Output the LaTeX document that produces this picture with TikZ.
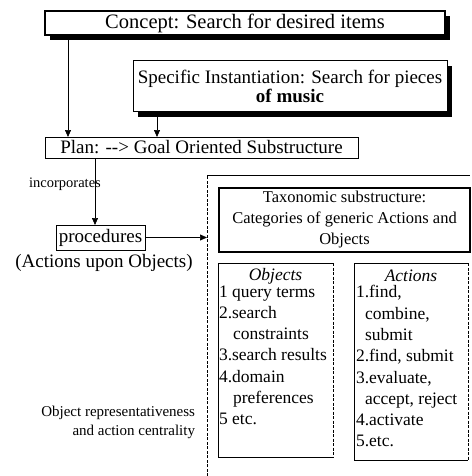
\documentclass[tikz,border=0pt]{standalone}
\usepackage{fontspec}
\setmainfont{Liberation Serif}
\usetikzlibrary{arrows.meta,shadows}
\begin{document}
\begin{tikzpicture}[x=1pt,y=-1pt,
  every node/.style={inner sep=0pt, outer sep=0pt},
  frame/.style={draw=black, line width=0.9pt, fill=white, align=center},
  shadowed/.style={frame, line width=1.2pt,
    drop shadow={shadow xshift=5pt, shadow yshift=-5pt, fill=black, opacity=1}},
  link/.style={draw=black, line width=0.7pt, -{Triangle[length=7pt,width=6pt]}},
  bigfont/.style={font=\fontsize{20.5}{22}\selectfont},
  midfont/.style={font=\fontsize{19}{19}\selectfont},
  taxfont/.style={font=\fontsize{16.5}{21}\selectfont},
  listfont/.style={font=\fontsize{17.5}{21.3}\selectfont},
  notefont/.style={font=\fontsize{15}{19}\selectfont},
  smallfont/.style={font=\fontsize{14.5}{16}\selectfont},
  listtext/.style={listfont, align=left, anchor=north west},
  looseedge/.style={draw=black, line width=0.8pt, dash pattern=on 3pt off 1.5pt}
]
\useasboundingbox (0,0) rectangle (471,476);

% top level: the concept and its instantiation
\node[shadowed, bigfont, minimum width=400pt, minimum height=24pt]
  (concept) at (245,23) {Concept: Search for desired items};
\node[shadowed, midfont, line width=1pt, minimum width=314pt, minimum height=51pt]
  (spec) at (290,86.5) {Specific Instantiation: Search for pieces\\ \textbf{of music}};

% the plan and its procedures
\node[frame, midfont, minimum width=313pt, minimum height=21pt]
  (plan) at (201.5,147.5) {Plan: -{}-{}> Goal Oriented Substructure};
\node[frame, midfont, minimum width=89pt, minimum height=25pt]
  (proc) at (100.5,237.5) {procedures};
\node[midfont] (procnote) at (104,263) {(Actions upon Objects)};

\draw[link] ([xshift=23pt]concept.south west) -- ([xshift=23pt]plan.north west);
\draw[link] ([xshift=24pt]spec.south west) -- ([xshift=112pt]plan.north west);
\draw[link] ([xshift=50pt]plan.south west) -- ([xshift=-5.5pt]proc.north);
\node[smallfont] (inclabel) at (65,184) {incorporates};

% taxonomic substructure region
\node[minimum width=263pt, minimum height=310pt] (tax) at (338.5,330) {};
\draw[looseedge] (tax.south west) -- (tax.north west);
\draw[line width=0.8pt] (tax.north west) -- (tax.north east);
\draw[link] (proc.east) -- (tax.west |- proc.east);

\node[frame, taxfont, line width=1.3pt, minimum width=251pt, minimum height=64pt]
  (taxhead) at (344.5,220) {Taxonomic substructure:\\ Categories of generic Actions and\\ Objects};

% objects
\node[minimum width=115pt, minimum height=194pt] (objbox) at (275.5,360) {};
\draw[line width=0.9pt] (objbox.north east) -- (objbox.north west)
  -- (objbox.south west) -- (objbox.south east);
\draw[looseedge] (objbox.north east) -- (objbox.south east);
\node[listfont] (objhead) at (275.5,276) {\textit{Objects}};
\node[listtext] (objlist) at (219,285.5) {1 query terms\\
  2.search\\
  \hspace*{14pt}constraints\\
  3.search results\\
  4.domain\\
  \hspace*{14pt}preferences\\
  5 etc.};

% actions
\node[minimum width=114pt, minimum height=197pt] (actbox) at (411,361.5) {};
\draw[line width=0.9pt] (actbox.north east) -- (actbox.north west)
  -- (actbox.south west) -- (actbox.south east);
\draw[looseedge] (actbox.north east) -- (actbox.south east);
\node[listfont] (acthead) at (411,276) {\textit{Actions}};
\node[listtext] (actlist) at (356,285.5) {1.find,\\
  \hspace*{9pt}combine,\\
  \hspace*{9pt}submit\\
  2.find, submit\\
  3.evaluate,\\
  \hspace*{9pt}accept, reject\\
  4.activate\\
  5.etc.};

% side note
\node[notefont, align=right, anchor=east] (sidenote) at (195,422) {Object representativeness\\ and action centrality};
\end{tikzpicture}
\end{document}
